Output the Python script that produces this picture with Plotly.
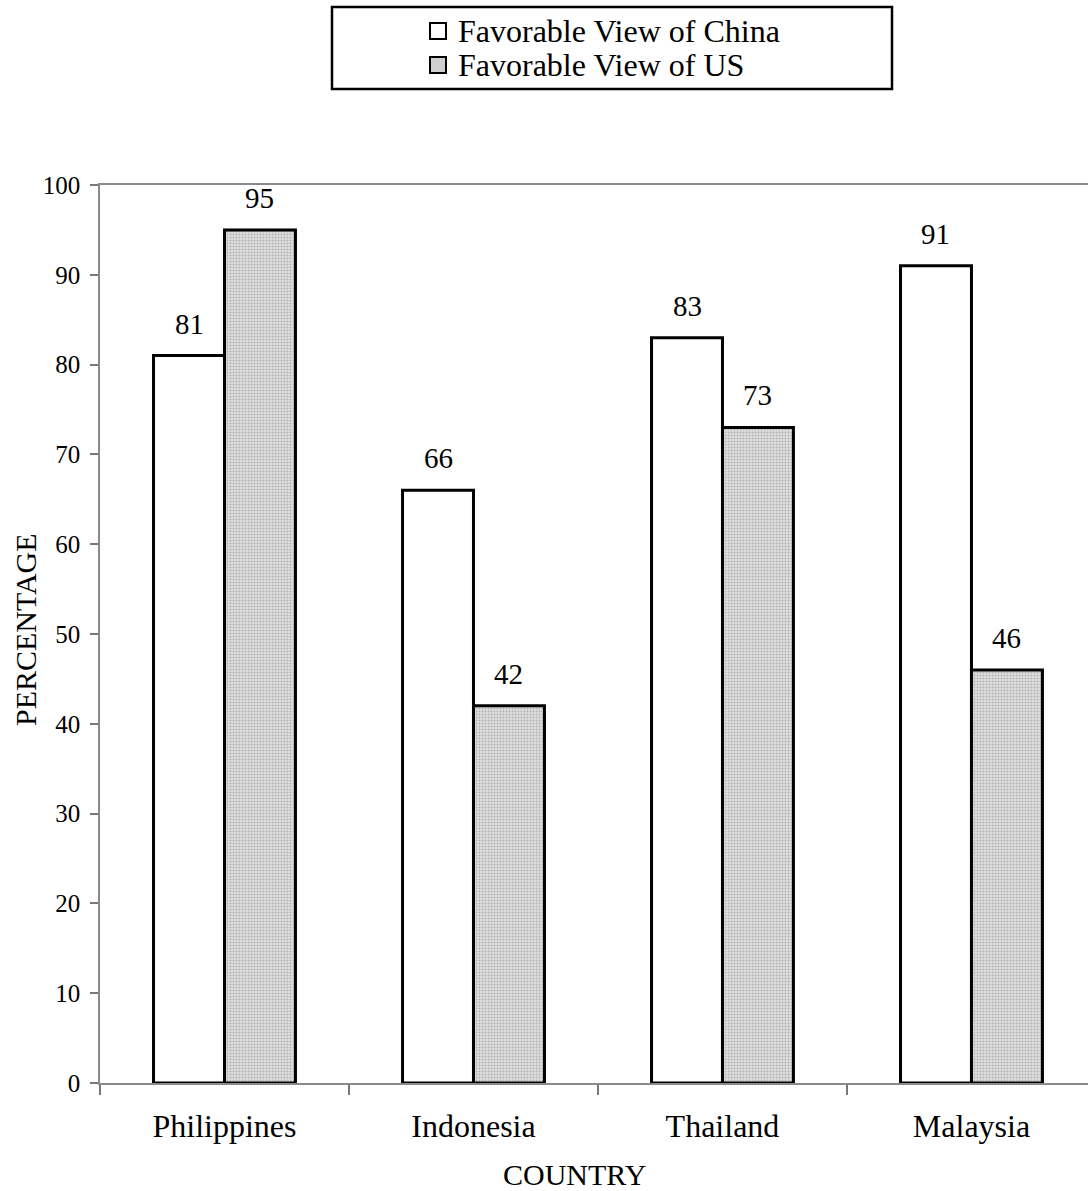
import plotly.graph_objects as go

countries = ["Philippines", "Indonesia", "Thailand", "Malaysia"]
china_fav = [81, 66, 83, 91]
us_fav = [95, 42, 73, 46]
series_names = ["Favorable View of China", "Favorable View of US"]
y_ticks = list(range(0, 101, 10))

W, H = 1088, 1191
L, T, B = 100, 185, 108
plot_w = W - L
plot_h = H - T - B

FONT = "Liberation Serif, Times New Roman, serif"


def px_x(p):
    return (p - L) / plot_w


def px_y(p):
    return (H - B - p) / plot_h


fig = go.Figure()
fig.add_trace(go.Bar(
    x=countries, y=china_fav, name=series_names[0], showlegend=False,
    marker=dict(color="white", line=dict(color="black", width=3)),
))
fig.add_trace(go.Bar(
    x=countries, y=us_fav, name=series_names[1], showlegend=False,
    marker=dict(color="#d8d8d8", line=dict(color="black", width=3),
                pattern=dict(shape=".", fgcolor="#7f7f7f", bgcolor="#dedede",
                             size=3, solidity=0.3)),
))

bargap = 0.43
off = (1 - bargap) / 4
for i, c in enumerate(countries):
    for vals, sgn in ((china_fav, -1), (us_fav, 1)):
        fig.add_annotation(x=i + sgn * off, y=vals[i], text=str(vals[i]),
                           showarrow=False, yanchor="bottom", yshift=14,
                           font=dict(family=FONT, size=29, color="black"))

# legend (manual)
fig.add_shape(type="rect", xref="paper", yref="paper",
              x0=px_x(332), x1=px_x(892), y0=px_y(89), y1=px_y(7),
              line=dict(color="black", width=2.5), fillcolor="white")
leg_fill = ["white", "#cfcfcf"]
leg_cy = [31, 65]
for name, fill, cy in zip(series_names, leg_fill, leg_cy):
    fig.add_shape(type="rect", xref="paper", yref="paper",
                  x0=px_x(430), x1=px_x(446), y0=px_y(cy + 8), y1=px_y(cy - 8),
                  line=dict(color="black", width=2), fillcolor=fill)
    fig.add_annotation(xref="paper", yref="paper", x=px_x(456), y=px_y(cy),
                       xanchor="left", yanchor="middle", text=name,
                       showarrow=False,
                       font=dict(family=FONT, size=32, color="black"))

# axis titles
fig.add_annotation(xref="paper", yref="paper", x=px_x(574), y=px_y(1174),
                   xanchor="center", yanchor="middle", text="COUNTRY",
                   showarrow=False, font=dict(family=FONT, size=30, color="black"))
fig.add_annotation(xref="paper", yref="paper", x=px_x(25), y=px_y(630),
                   xanchor="center", yanchor="middle", text="PERCENTAGE",
                   textangle=-90, showarrow=False,
                   font=dict(family=FONT, size=30, color="black"))

fig.update_layout(
    width=W, height=H,
    margin=dict(l=L, r=0, t=T, b=B, pad=0),
    paper_bgcolor="white", plot_bgcolor="white",
    barmode="group", bargap=bargap, bargroupgap=0,
    font=dict(family=FONT, color="black"),
    showlegend=False,
    xaxis=dict(
        type="category", range=[-0.5, 3.468], automargin=False,
        showline=True, linecolor="#8a8a8a", linewidth=1.5, mirror=True,
        ticks="outside", tickson="boundaries", ticklen=10, tickcolor="#777777",
        tickwidth=1.5, ticklabelstandoff=14,
        showgrid=False, zeroline=False,
        tickfont=dict(family=FONT, size=32, color="black"),
    ),
    yaxis=dict(
        range=[0, 100], tickvals=y_ticks, automargin=False,
        showline=True, linecolor="#8a8a8a", linewidth=1.5,
        ticks="outside", ticklen=8, tickcolor="#777777", tickwidth=1.5,
        ticklabelstandoff=5,
        showgrid=False, zeroline=False,
        tickfont=dict(family=FONT, size=25, color="black"),
    ),
)

fig.write_html("out.html")
